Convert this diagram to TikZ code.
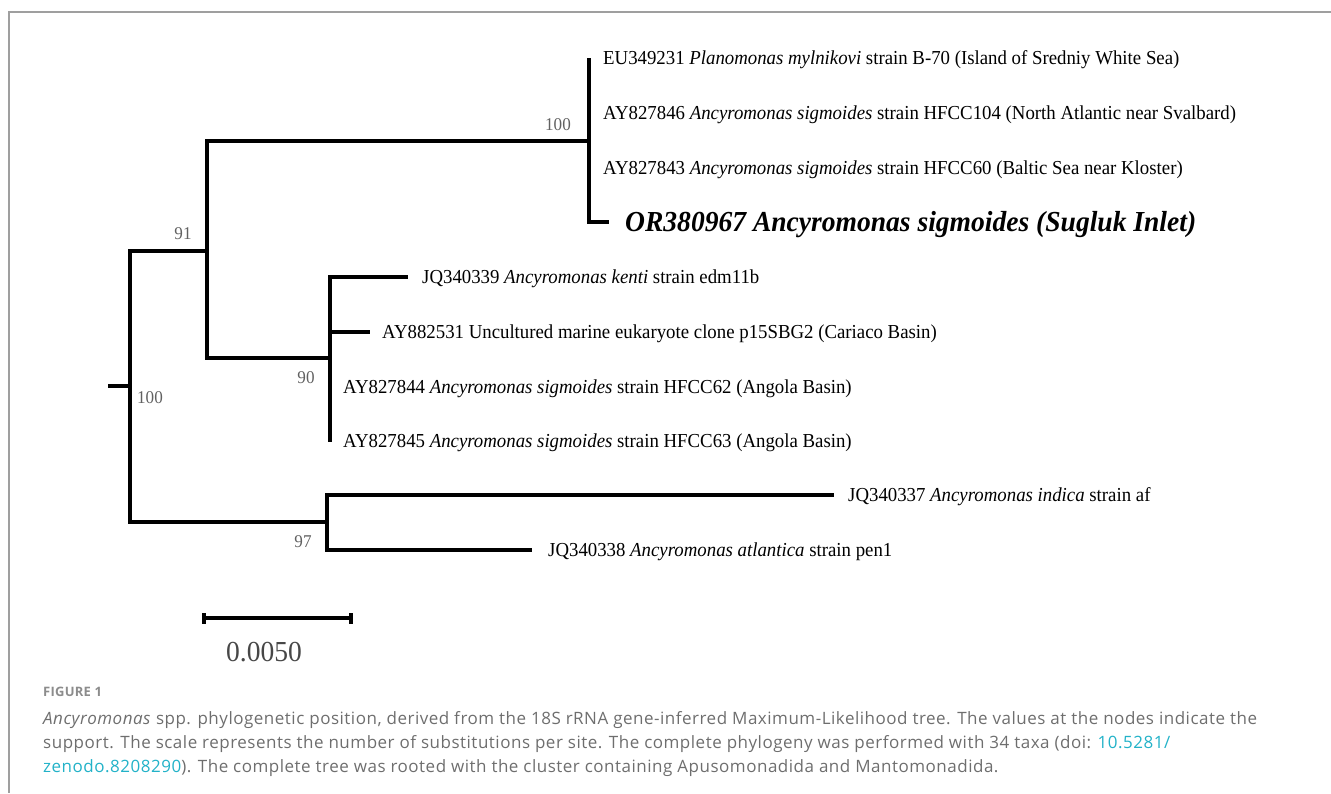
\documentclass[tikz,border=0pt]{standalone}
\usepackage{fontspec}
\setmainfont{Liberation Serif}
\newfontfamily\treefont[FakeStretch=0.95]{Liberation Serif}
\newfontfamily\capfont[LetterSpace=3]{Open Sans}
\newfontfamily\figfont[LetterSpace=2]{Open Sans}
\definecolor{linkteal}{HTML}{22B2C8}
\definecolor{capgray}{HTML}{6E6E6E}
\newcommand{\gen}[1]{\textit{#1}}

\begin{document}
\begin{tikzpicture}[x=1pt,y=-1pt,
   branch/.style={line width=4pt},
   tip/.style={anchor=west,inner sep=0pt,text height=13pt,text depth=0pt,
      font=\treefont\fontsize{19.8}{20}\selectfont},
   query/.style={tip,text height=19pt,font=\treefont\bfseries\itshape\fontsize{29}{30}\selectfont},
   supp/.style={inner sep=0pt,text=black!62,font=\treefont\fontsize{18}{18}\selectfont},
   capline/.style={anchor=west,inner sep=0pt,text height=12pt,text depth=0pt,
      text=capgray,font=\capfont\fontsize{17}{17}\selectfont}]
   \useasboundingbox (0,0) rectangle (1331,793);
   \draw[gray!75,line width=1.3pt] (1331,12) -- (9,12) -- (9,793);

   % inner nodes of the tree
   \coordinate (root) at (108,386);
   \coordinate (nR)   at (130,386);
   \coordinate (n91)  at (207,251);
   \coordinate (nA)   at (589,141);
   \coordinate (n90)  at (330,358);
   \coordinate (n97)  at (327,522);

   % ends of the tip branches
   \coordinate (e1)  at (589, 58);
   \coordinate (e4)  at (609,222);
   \coordinate (e5)  at (408,277);
   \coordinate (e6)  at (370,332);
   \coordinate (e8)  at (330,442);
   \coordinate (e9)  at (834,495);
   \coordinate (e10) at (532,550);

   \draw[branch] (root) -- (nR);
   \draw[branch] (nR) |- (n91);
   \draw[branch] (nR) |- (n97);
   \draw[branch] (n91) |- (nA);
   \draw[branch] (n91) |- (n90);
   \draw[branch] (nA) -- (e1);
   \draw[branch] (nA) |- (e4);
   \draw[branch] (n90) |- (e5);
   \draw[branch] (n90) |- (e6);
   \draw[branch] (n90) -- (e8);
   \draw[branch] (n97) |- (e9);
   \draw[branch] (n97) |- (e10);

   % taxa
   \node[tip]   (t1)  at (603, 58) {EU349231 \gen{Planomonas mylnikovi} strain B-70 (Island of Sredniy White Sea)};
   \node[tip]   (t2)  at (603,113) {AY827846 \gen{Ancyromonas sigmoides} strain HFCC104 (North Atlantic near Svalbard)};
   \node[tip]   (t3)  at (603,168) {AY827843 \gen{Ancyromonas sigmoides} strain HFCC60 (Baltic Sea near Kloster)};
   \node[query] (t4)  at (625,222) {OR380967 Ancyromonas sigmoides (Sugluk Inlet)};
   \node[tip]   (t5)  at (422,277) {JQ340339 \gen{Ancyromonas kenti} strain edm11b};
   \node[tip]   (t6)  at (382,332) {AY882531 Uncultured marine eukaryote clone p15SBG2 (Cariaco Basin)};
   \node[tip]   (t7)  at (343,387) {AY827844 \gen{Ancyromonas sigmoides} strain HFCC62 (Angola Basin)};
   \node[tip]   (t8)  at (343,441) {AY827845 \gen{Ancyromonas sigmoides} strain HFCC63 (Angola Basin)};
   \node[tip]   (t9)  at (848,495) {JQ340337 \gen{Ancyromonas indica} strain af};
   \node[tip]   (t10) at (548,550) {JQ340338 \gen{Ancyromonas atlantica} strain pen1};

   % support values
   \node[supp] (sA)  at (558,125) {100};
   \node[supp] (s91) at (183,234) {91};
   \node[supp] (sR)  at (150,398) {100};
   \node[supp] (s90) at (306,378) {90};
   \node[supp] (s97) at (303,542) {97};

   % scale bar
   \coordinate (sb1) at (204,618);
   \coordinate (sb2) at (351,618);
   \draw[line width=3.2pt] (sb1) -- (sb2);
   \draw[line width=3.2pt] ([yshift=-5.5pt]sb1) -- ([yshift=5.5pt]sb1);
   \draw[line width=3.2pt] ([yshift=-5.5pt]sb2) -- ([yshift=5.5pt]sb2);
   \node[inner sep=0pt,text=black!72,font=\treefont\fontsize{29}{30}\selectfont] (sblab) at (264,652) {0.0050};

   % caption
   \node[capline,text height=9.5pt,text=gray!90,font=\figfont\bfseries\fontsize{13}{13}\selectfont] (fig) at (43,692) {FIGURE 1};
   \node[capline] (c1) at (43,718) {\textit{Ancyromonas} spp. phylogenetic position, derived from the 18S rRNA gene-inferred Maximum-Likelihood tree. The values at the nodes indicate the};
   \node[capline] (c2) at (43,742) {support. The scale represents the number of substitutions per site. The complete phylogeny was performed with 34 taxa (doi: \textcolor{linkteal}{10.5281/}};
   \node[capline] (c3) at (43,766) {\textcolor{linkteal}{zenodo.8208290}). The complete tree was rooted with the cluster containing Apusomonadida and Mantomonadida.};
\end{tikzpicture}
\end{document}
